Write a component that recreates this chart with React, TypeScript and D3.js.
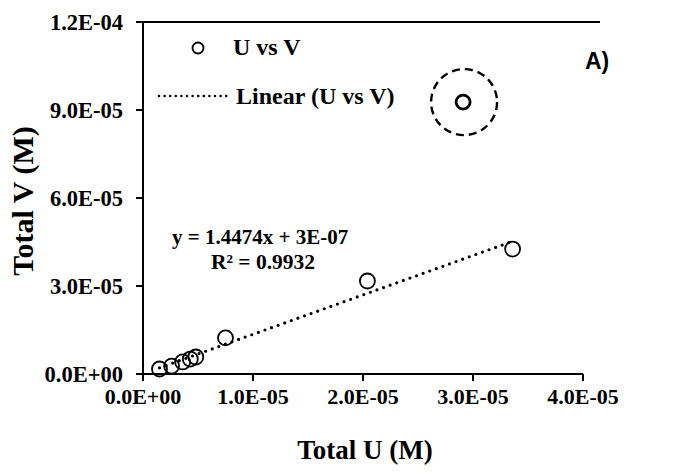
import React from "react";
import * as d3 from "d3";

const uValues = [1.5e-6, 2.6e-6, 3.6e-6, 4.3e-6, 4.8e-6, 7.5e-6, 2.04e-5, 3.36e-5];
const vValues = [1.7e-6, 2.7e-6, 4.1e-6, 5.1e-6, 5.8e-6, 1.23e-5, 3.17e-5, 4.26e-5];
const outlierU = [2.91e-5];
const outlierV = [9.27e-5];
const xTicks = [0, 1e-5, 2e-5, 3e-5, 4e-5];
const xTickLabels = ["0.0E+00", "1.0E-05", "2.0E-05", "3.0E-05", "4.0E-05"];
const yTicks = [0, 3e-5, 6e-5, 9e-5, 1.2e-4];
const yTickLabels = ["0.0E+00", "3.0E-05", "6.0E-05", "9.0E-05", "1.2E-04"];
const equationText = "y = 1.4474x + 3E-07";
const r2Text = "R² = 0.9932";

const W = 675;
const H = 476;
const serif = "'Liberation Serif', 'Times New Roman', serif";

export default function App() {
  const x = d3.scaleLinear().domain([0, 4e-5]).range([143, 583]);
  const y = d3.scaleLinear().domain([0, 1.2e-4]).range([374, 22]);

  // least-squares trendline from the plotted series
  const n = uValues.length;
  const mx = d3.mean(uValues)!;
  const my = d3.mean(vValues)!;
  let sxy = 0, sxx = 0;
  for (let i = 0; i < n; i++) {
    sxy += (uValues[i] - mx) * (vValues[i] - my);
    sxx += (uValues[i] - mx) ** 2;
  }
  const slope = sxy / sxx;
  const intercept = my - slope * mx;
  const x0 = d3.min(uValues)!;
  const x1 = d3.max(uValues)!;
  const line = d3.line<number>().x((d) => x(d)).y((d) => y(slope * d + intercept));

  const x0px = x(0);
  const y0px = y(0);

  return (
    <svg width={W} height={H} style={{ position: "absolute", left: 0, top: 0, background: "#fff" }}>
      <rect width={W} height={H} fill="#fff" />
      {/* top border */}
      <line x1={x0px} x2={600} y1={y(1.2e-4)} y2={y(1.2e-4)} stroke="#000" strokeWidth={2.2} />
      {/* axes */}
      <line x1={x0px} x2={x0px} y1={y(1.2e-4)} y2={y0px + 7} stroke="#000" strokeWidth={2} />
      <line x1={x0px - 7} x2={x(4e-5)} y1={y0px} y2={y0px} stroke="#000" strokeWidth={2} />
      {yTicks.map((t, i) => (
        <g key={"y" + i}>
          <line x1={x0px - 7} x2={x0px} y1={y(t)} y2={y(t)} stroke="#000" strokeWidth={2} />
          <text x={123} y={y(t)} dy="0.35em" textAnchor="end" fontFamily={serif} fontWeight="bold" fontSize={22.5}>
            {yTickLabels[i]}
          </text>
        </g>
      ))}
      {xTicks.map((t, i) => (
        <g key={"x" + i}>
          <line x1={x(t)} x2={x(t)} y1={y0px} y2={y0px + 7} stroke="#000" strokeWidth={2} />
          <text x={x(t)} y={404} textAnchor="middle" fontFamily={serif} fontWeight="bold" fontSize={22}>
            {xTickLabels[i]}
          </text>
        </g>
      ))}
      {/* axis titles */}
      <text x={365} y={459} textAnchor="middle" fontFamily={serif} fontWeight="bold" fontSize={27}>
        Total U (M)
      </text>
      <text transform={`translate(33,201) rotate(-90)`} textAnchor="middle" fontFamily={serif} fontWeight="bold" fontSize={30}>
        Total V (M)
      </text>

      {/* trendline */}
      <path d={line([x0, x1]) || ""} fill="none" stroke="#000" strokeWidth={3.2} strokeLinecap="round" strokeDasharray="0 7" />

      {/* points */}
      {uValues.map((u, i) => (
        <circle key={"p" + i} cx={x(u)} cy={y(vValues[i])} r={7.5} fill="none" stroke="#000" strokeWidth={1.8} />
      ))}
      {outlierU.map((u, i) => (
        <g key={"o" + i}>
          <circle cx={x(u)} cy={y(outlierV[i])} r={7} fill="none" stroke="#000" strokeWidth={2.8} />
          <circle cx={x(u) + 1} cy={y(outlierV[i])} r={33} fill="none" stroke="#000" strokeWidth={2.4} strokeDasharray="8 5" />
        </g>
      ))}

      {/* equation */}
      <text x={172} y={244} fontFamily={serif} fontWeight="bold" fontSize={21}>{equationText}</text>
      <text x={211} y={269} fontFamily={serif} fontWeight="bold" fontSize={21.5}>{r2Text}</text>

      {/* legend */}
      <circle cx={198} cy={48} r={5.5} fill="none" stroke="#000" strokeWidth={1.8} />
      <text x={233} y={55} fontFamily={serif} fontWeight="bold" fontSize={24}>U vs V</text>
      <line x1={159} x2={228} y1={96} y2={96} stroke="#000" strokeWidth={2.6} strokeLinecap="round" strokeDasharray="0 5.6" />
      <text x={236} y={104} fontFamily={serif} fontWeight="bold" fontSize={24}>Linear (U vs V)</text>

      {/* panel label */}
      <text x={585} y={69} fontFamily="'Liberation Sans', Arial, sans-serif" fontWeight="bold" fontSize={23}>A)</text>
    </svg>
  );
}
